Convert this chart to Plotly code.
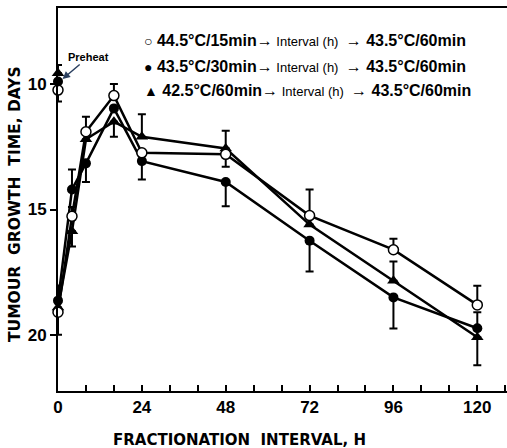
import plotly.graph_objects as go

# ---- data ----
interval_h = [0, 4, 8, 16, 24, 48, 72, 96, 120]

open_y = [19.09, 15.27, 11.9, 10.46, 12.74, 12.8, 15.24, 16.6, 18.8]
open_up = [0, 0.37, 0.6, 0.46, 0, 0, 1.04, 0.44, 0.76]
open_dn = [0.9, 0, 0, 0, 0, 0.5, 0, 0, 0]

filled_y = [18.63, 14.2, 13.16, 10.97, 13.07, 13.9, 16.24, 18.5, 19.73]
filled_up = [0.6, 0.8, 0, 0, 0, 0, 0, 0, 0.64]
filled_dn = [0, 0, 0.74, 0, 0.73, 0.97, 1.23, 1.24, 0]

tri_y = [18.9, 15.87, 12.2, 11.5, 12.1, 12.57, 15.6, 17.84, 20.09]
tri_up = [0, 0, 0, 0, 0.9, 0.71, 0, 0.77, 0]
tri_dn = [0, 0.6, 0, 0.6, 0, 0, 0, 0, 1.11]

preheat_x = [0]
preheat_open = [10.24]
preheat_filled = [9.9]
preheat_tri = [9.57]
preheat_open_dn = [0.46]
preheat_tri_up = [0.33]

legend_labels = [
    ("○", "44.5°C/15min"),
    ("●", "43.5°C/30min"),
    ("▲", "42.5°C/60min"),
]
second_treatment = "43.5°C/60min"

x_ticks = [0, 24, 48, 72, 96, 120]
y_ticks = [10, 15, 20]

FONT = "Liberation Sans"
TFONT = "DejaVu Sans"
fig = go.Figure()


def err(up, dn):
    return dict(type="data", symmetric=False, array=dn, arrayminus=up,
                color="black", thickness=2, width=4)


line = dict(color="black", width=2.5)
fig.add_trace(go.Scatter(x=interval_h, y=tri_y, mode="lines+markers", line=line,
                         marker=dict(symbol="triangle-up", size=11, color="black"),
                         error_y=err(tri_up, tri_dn), cliponaxis=False))
fig.add_trace(go.Scatter(x=interval_h, y=filled_y, mode="lines+markers", line=line,
                         marker=dict(symbol="circle", size=10, color="black"),
                         error_y=err(filled_up, filled_dn), cliponaxis=False))
fig.add_trace(go.Scatter(x=interval_h, y=open_y, mode="lines+markers", line=line,
                         marker=dict(symbol="circle", size=10, color="white",
                                     line=dict(color="black", width=1.5)),
                         error_y=err(open_up, open_dn), cliponaxis=False))

# preheat points
fig.add_trace(go.Scatter(x=preheat_x, y=preheat_open, mode="markers",
                         marker=dict(symbol="circle", size=10, color="white",
                                     line=dict(color="black", width=1.5)),
                         error_y=err([0], preheat_open_dn), cliponaxis=False))
fig.add_trace(go.Scatter(x=preheat_x, y=preheat_filled, mode="markers",
                         marker=dict(symbol="circle", size=10, color="black"),
                         cliponaxis=False))
fig.add_trace(go.Scatter(x=preheat_x, y=preheat_tri, mode="markers",
                         marker=dict(symbol="triangle-up", size=11, color="black"),
                         error_y=err(preheat_tri_up, [0]), cliponaxis=False))

W, H = 507, 448
L, R, T, B = 58, 0, 8, 57
pw, ph = W - L - R, H - T - B


def px(x):
    return (x - L) / pw


def py(y):
    return 1 - (y - T) / ph


rows_y = [41, 66, 91]
for (sym, first), yy in zip(legend_labels, rows_y):
    txt = (f"<span style='font-size:14px'>{sym}</span> <b>{first}</b>"
           f"<span style='font-size:16px'><b>→</b></span>"
           f"<span style='font-size:13px'> Interval (h)  </span>"
           f"<span style='font-size:16px'><b>→</b></span> <b>{second_treatment}</b>")
    fig.add_annotation(x=px(142), y=py(yy), xref="paper", yref="paper", text=txt,
                       showarrow=False, xanchor="left", yanchor="middle",
                       font=dict(family=FONT, size=16, color="black"))

fig.add_annotation(x=1.3, y=9.8, xref="x", yref="y", text="<b>Preheat</b>",
                   showarrow=True, arrowhead=2, arrowsize=1, arrowwidth=1.5,
                   ax=26, ay=-22, font=dict(family=FONT, size=11, color="black"))

# axis titles
fig.add_annotation(x=px(239), y=py(440), xref="paper", yref="paper",
                   text="<b>FRACTIONATION  INTERVAL, H</b>", showarrow=False,
                   xanchor="center", yanchor="middle",
                   font=dict(family=TFONT, size=15, color="black"))
fig.add_annotation(x=px(15), y=py(204), xref="paper", yref="paper",
                   text="<b>TUMOUR  GROWTH  TIME, DAYS</b>", showarrow=False,
                   xanchor="center", yanchor="middle", textangle=-90,
                   font=dict(family=TFONT, size=15.5, color="black"))

fig.update_layout(
    width=W, height=H, margin=dict(l=L, r=R, t=T, b=B),
    paper_bgcolor="white", plot_bgcolor="white", showlegend=False,
    font=dict(family=FONT, color="black"),
    xaxis=dict(range=[0, 128.5], tickvals=x_ticks, ticktext=[f"<b>{v}</b>" for v in x_ticks],
               ticks="inside", ticklen=6, tickwidth=1.5, tickcolor="black",
               minor=dict(dtick=8, tick0=0, ticks="inside", ticklen=6, tickwidth=1.5,
                          tickcolor="black"),
               showline=True, linewidth=2, linecolor="black", mirror=True,
               showgrid=False, zeroline=False, tickfont=dict(size=17)),
    yaxis=dict(range=[22.23, 6.97], tickvals=y_ticks, ticktext=[f"<b>{v}</b>" for v in y_ticks],
               ticks="outside", ticklen=6, tickwidth=1.5, tickcolor="black",
               showline=True, linewidth=2, linecolor="black",
               showgrid=False, zeroline=False, tickfont=dict(size=17)),
)

fig.write_html("out.html")
